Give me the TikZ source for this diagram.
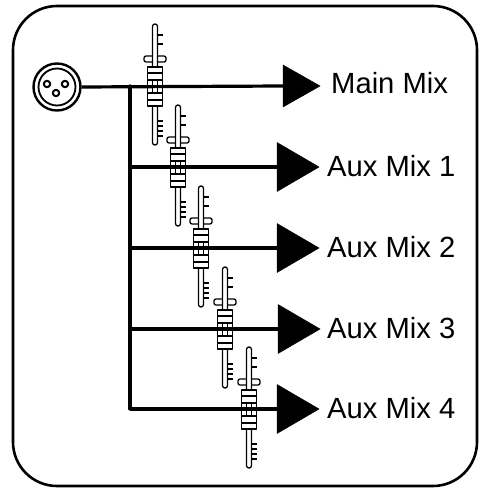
\documentclass[tikz,border=0pt]{standalone}
\usepackage{fontspec}
\setmainfont{Liberation Sans}
\begin{document}
\begin{tikzpicture}[x=1pt,y=-1pt,line join=round,
  frame/.style={line width=2.6pt,rounded corners=44pt},
  sig/.style={line width=3.2pt},
  fad/.style={line width=1.3pt,fill=white},
  tick/.style={line width=1.1pt},
  tri/.style={fill=black,draw=black,line width=0.5pt},
  lab/.style={anchor=base west,inner sep=0pt,font=\fontsize{29.2}{32}\selectfont}]
\useasboundingbox (0,0) rectangle (479,489);
\draw[frame] (13,6) rectangle (477,486);
% XLR connector
\node[circle,draw,line width=2.4pt,minimum size=47pt,inner sep=0pt] (xlr) at (57,87) {};
\draw[line width=1.8pt] (xlr.center) circle[radius=18.5];
\foreach \px/\py in {-10/-3,8/-3,-1/6}
  \draw[line width=2pt] ([shift={(\px,\py)}]xlr.center) circle[radius=3.2];
% faders (drawn beneath the signal lines)
\foreach \cx/\r in {155/86,178/167,201/248,225/329,249/409}{
  \filldraw[fad,rounded corners=2pt] (\cx-11,\r-30) rectangle (\cx+11,\r-24);
  \filldraw[fad,rounded corners=2.4pt] (\cx-2.5,\r-62) rectangle (\cx+2.5,\r+59);
  \foreach \t in {-51,-42,35,40,45,50}
    \draw[tick] (\cx+2.5,\r+\t) -- ++(5,0);
  \filldraw[fad] (\cx-7.5,\r-19) rectangle (\cx+7.5,\r+20);
  \draw[fad] (\cx-7.5,\r-13) -- (\cx+7.5,\r-13)
             (\cx-7.5,\r-6) -- (\cx+7.5,\r-6)
             (\cx-7.5,\r+7) -- (\cx+7.5,\r+7)
             (\cx-7.5,\r+14) -- (\cx+7.5,\r+14)
             (\cx-2.5,\r-6) -- (\cx-2.5,\r+7)
             (\cx+2.5,\r-6) -- (\cx+2.5,\r+7);
}
% bus
\coordinate (btop) at (130,86);
\coordinate (b1) at (130,167);
\coordinate (b2) at (130,248);
\coordinate (b3) at (130,329);
\coordinate (b4) at (130,409);
% arrow heads
\coordinate (t0) at (283,86);
\coordinate (t1) at (277,167);
\coordinate (t2) at (277,248);
\coordinate (t3) at (278,329);
\coordinate (t4) at (277,409);
\draw[sig] (xlr.east) -- (t0);
\draw[sig,line cap=round] (btop) -- (b4);
\foreach \i in {1,2,3,4} \draw[sig] (b\i) -- (t\i);
\filldraw[tri] (t0) ++(0,-21) -- ++(37,21) -- ++(-37,21) -- cycle;
\foreach \i in {1,2,3,4}
  \filldraw[tri] (t\i) ++(0,-24.5) -- ++(42,24.5) -- ++(-42,24.5) -- cycle;
% labels
\node[lab] (l0) at (331,94) {Main Mix};
\node[lab] (l1) at (327,176) {Aux Mix 1};
\node[lab] (l2) at (327,257) {Aux Mix 2};
\node[lab] (l3) at (327,338) {Aux Mix 3};
\node[lab] (l4) at (327,418) {Aux Mix 4};
\end{tikzpicture}
\end{document}
